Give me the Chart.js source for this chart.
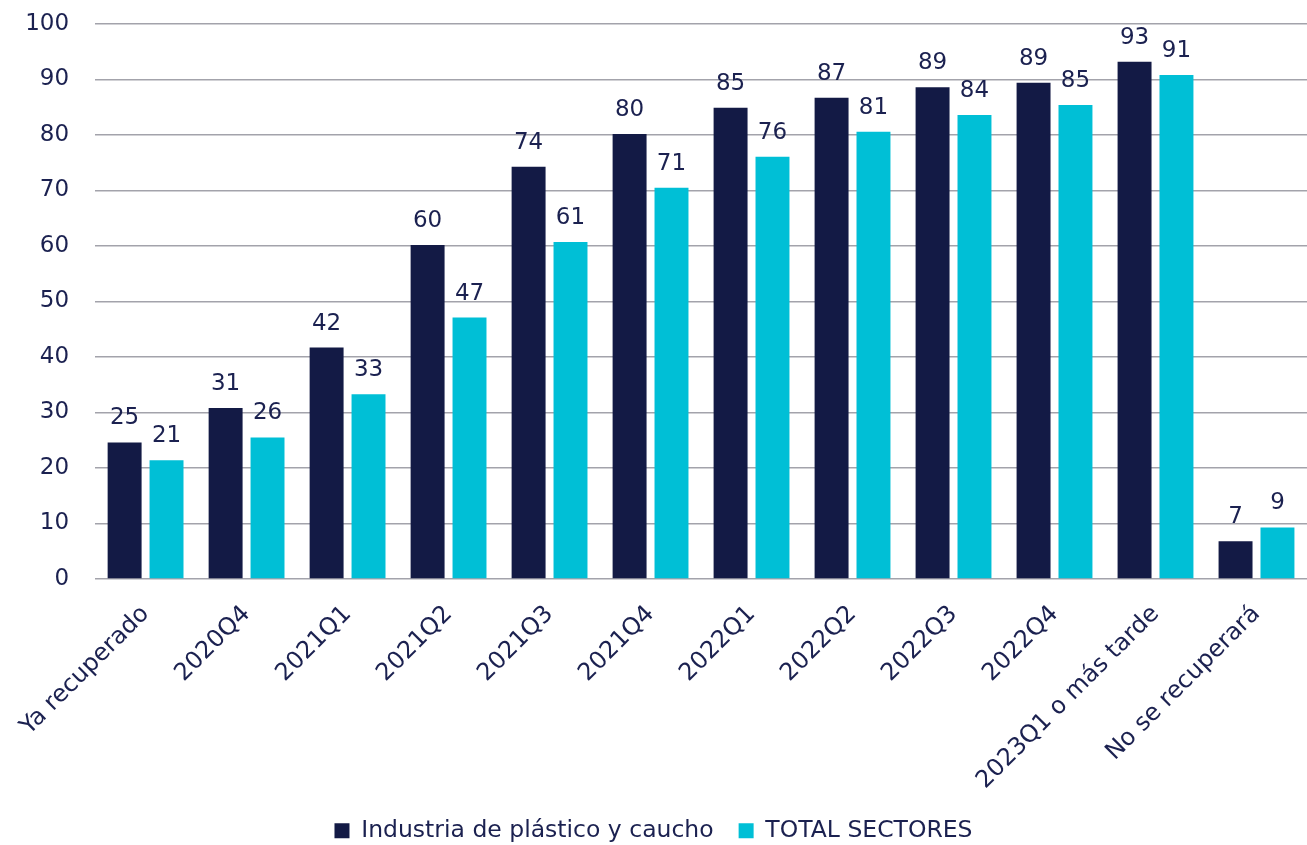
<!DOCTYPE html>
<html>
<head>
<meta charset="utf-8">
<script src="https://cdn.jsdelivr.net/npm/chart.js@4/dist/chart.umd.min.js"></script>
<style>
  html, body { margin: 0; padding: 0; background: #fff; }
  #wrap { width: 1307px; height: 845px; position: relative; }
</style>
</head>
<body>
<div id="wrap"><canvas id="chart"></canvas></div>
<script>
const categories = ['Ya recuperado', '2020Q4', '2021Q1', '2021Q2', '2021Q3', '2021Q4',
  '2022Q1', '2022Q2', '2022Q3', '2022Q4', '2023Q1 o más tarde', 'No se recuperará'];
const plastico = [24.6, 30.8, 41.7, 60.2, 74.3, 80.2, 84.9, 86.7, 88.6, 89.4, 93.2, 6.8];
const totalSectores = [21.4, 25.5, 33.3, 47.1, 60.7, 70.5, 76.1, 80.6, 83.6, 85.4, 90.8, 9.3];
const yTicks = [0, 10, 20, 30, 40, 50, 60, 70, 80, 90, 100];

const NAVY = '#131a45';
const CYAN = '#00bfd6';
const TEXT = '#1b2150';
const FONT = 'DejaVu Sans, Verdana, sans-serif';

// value labels above each bar
const barLabels = {
  id: 'barLabels',
  afterDatasetsDraw(chart) {
    const ctx = chart.ctx;
    ctx.save();
    ctx.font = '23px ' + FONT;
    ctx.fillStyle = TEXT;
    ctx.textAlign = 'center';
    ctx.textBaseline = 'alphabetic';
    chart.data.datasets.forEach((ds, i) => {
      chart.getDatasetMeta(i).data.forEach((bar, j) => {
        ctx.fillText(String(Math.round(ds.data[j])), bar.x, bar.y - 18);
      });
    });
    ctx.restore();
  }
};

new Chart(document.getElementById('chart'), {
  type: 'bar',
  data: {
    labels: categories,
    datasets: [
      { label: 'Industria de plástico y caucho', data: plastico, backgroundColor: NAVY },
      { label: 'TOTAL SECTORES', data: totalSectores, backgroundColor: CYAN }
    ]
  },
  options: {
    responsive: true,
    maintainAspectRatio: false,
    animation: false,
    layout: { padding: { top: 0, right: 0, left: 0, bottom: -7.5 } },
    datasets: { bar: { categoryPercentage: 0.83, barPercentage: 0.81 } },
    scales: {
      x: {
        grid: { display: false, drawTicks: false },
        border: { display: false },
        ticks: {
          color: TEXT,
          font: { family: FONT, size: 24 },
          minRotation: 45,
          maxRotation: 45,
          padding: 21
        },
        afterFit: (s) => { s.height = 215; }
      },
      y: {
        min: 0,
        max: 100,
        afterBuildTicks: (s) => { s.ticks = yTicks.map((v) => ({ value: v })); },
        grid: { color: '#a3a3ab', lineWidth: 1.4, drawTicks: false },
        border: { display: false },
        ticks: {
          color: TEXT,
          font: { family: FONT, size: 23 },
          padding: 26
        },
        afterFit: (s) => {
          s.width = 93;
          // tick padding otherwise pushes the plot top down
          s.paddingTop = 24;
          s.paddingBottom = 0;
        }
      }
    },
    plugins: {
      tooltip: { enabled: false },
      legend: {
        position: 'bottom',
        labels: {
          color: TEXT,
          font: { family: FONT, size: 23.5 },
          boxWidth: 15,
          boxHeight: 15,
          padding: 25
        }
      }
    }
  },
  plugins: [barLabels]
});
</script>
</body>
</html>
